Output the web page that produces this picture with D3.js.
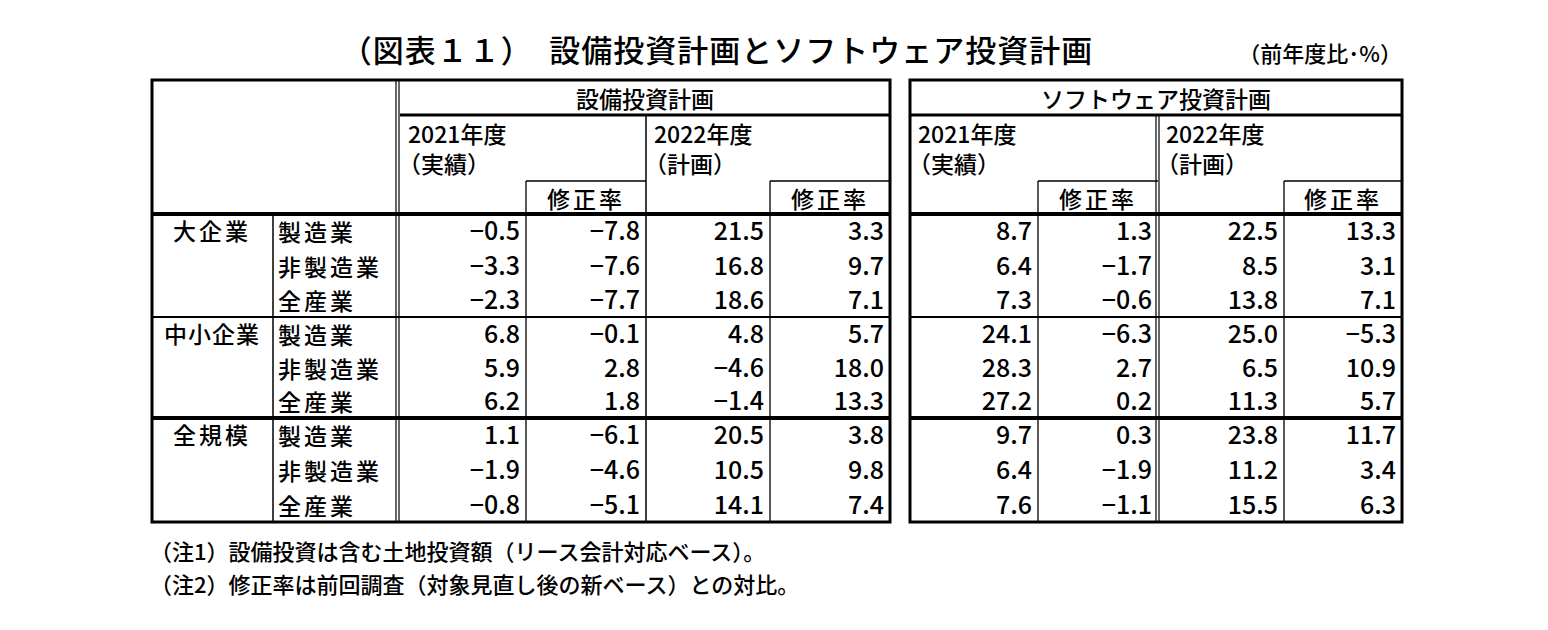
<!DOCTYPE html><html><head><meta charset="utf-8">
<script src="https://cdn.jsdelivr.net/npm/d3@7"></script>
<style>body{margin:0;background:#fff}text{font-family:"Noto Sans CJK JP",sans-serif;fill:#000;font-weight:500}</style></head><body>
<svg id="c" width="1548" height="630"></svg>
<script>
const groups=["大企業","中小企業","全規模"];
const industries=["製造業","非製造業","全産業"];
const capex2021=[-0.5,-3.3,-2.3,6.8,5.9,6.2,1.1,-1.9,-0.8];
const capex2021Rev=[-7.8,-7.6,-7.7,-0.1,2.8,1.8,-6.1,-4.6,-5.1];
const capex2022=[21.5,16.8,18.6,4.8,-4.6,-1.4,20.5,10.5,14.1];
const capex2022Rev=[3.3,9.7,7.1,5.7,18.0,13.3,3.8,9.8,7.4];
const sw2021=[8.7,6.4,7.3,24.1,28.3,27.2,9.7,6.4,7.6];
const sw2021Rev=[1.3,-1.7,-0.6,-6.3,2.7,0.2,0.3,-1.9,-1.1];
const sw2022=[22.5,8.5,13.8,25.0,6.5,11.3,23.8,11.2,15.5];
const sw2022Rev=[13.3,3.1,7.1,-5.3,10.9,5.7,11.7,3.4,6.3];
const title="（図表１１）　設備投資計画とソフトウェア投資計画";
const unit="（前年度比･%）";
const notes=["（注1）設備投資は含む土地投資額（リース会計対応ベース）。","（注2）修正率は前回調査（対象見直し後の新ベース）との対比。"];

const svg=d3.select("#c");
const cols=[capex2021,capex2021Rev,capex2022,capex2022Rev,sw2021,sw2021Rev,sw2022,sw2022Rev];
const colEdges=[[400,526],[526,646],[646,770],[770,890],[910,1038],[1038,1158],[1158,1284],[1284,1402]];
const x=d3.scaleOrdinal().domain(d3.range(8)).range(colEdges);
const gY=[[214,317],[317,418],[418,522]];
const fmt=v=>(v<0?"−":"")+Math.abs(v).toFixed(1);
const line=(x1,y1,x2,y2,w)=>svg.append("line").attr("x1",x1).attr("y1",y1).attr("x2",x2).attr("y2",y2).attr("stroke","#000").attr("stroke-width",w);

svg.append("text").attr("x",717).attr("y",62).attr("text-anchor","middle").attr("font-size",31).attr("font-weight","bold").attr("letter-spacing",1).text(title);
svg.append("text").attr("x",1402).attr("y",62).attr("text-anchor","end").attr("font-size",22).text(unit);

[[152,890,"設備投資計画",0],[910,1402,"ソフトウェア投資計画",4]].forEach(([L,R,h,c0],ti)=>{
  const dL=x(c0)[0];
  svg.append("text").attr("x",(dL+R)/2).attr("y",108).attr("text-anchor","middle").attr("font-size",23).text(h);
  line(dL,115,R,115,3);
  [[c0,"2021年度","（実績）"],[c0+2,"2022年度","（計画）"]].forEach(([c,a,b])=>{
    const [l]=x(c);
    svg.append("text").attr("x",l+8).attr("y",143).attr("font-size",23).text(a);
    svg.append("text").attr("x",l-2).attr("y",173).attr("font-size",23).text(b);
    const [rl,rr]=x(c+1);
    line(rl,181,rr,181,1.3);line(rl,181,rl,522,1.3);
    svg.append("text").attr("x",(rl+rr)/2).attr("y",208).attr("text-anchor","middle").attr("font-size",23).attr("letter-spacing",3).text("修正率");
  });
  const mid=x(c0+2)[0];
  if(ti===1){line(mid-2,115,mid-2,522,1.2);line(mid+1,115,mid+1,522,1.2);}else line(mid,115,mid,522,1.5);
  line(L,214,R,214,4);line(L,317,R,317,2);line(L,418,R,418,4);
  svg.append("rect").attr("x",L).attr("y",80).attr("width",R-L).attr("height",442).attr("fill","none").attr("stroke","#000").attr("stroke-width",3);
  for(let c=c0;c<c0+4;c++){
    const [l,r]=x(c);
    groups.forEach((g,gi)=>{
      const yb=d3.scaleBand().domain(d3.range(3)).range(gY[gi]);
      industries.forEach((_,ii)=>{
        svg.append("text").attr("x",r-6).attr("y",yb(ii)+yb.bandwidth()/2+9).attr("text-anchor","end")
          .attr("font-family","Liberation Sans Narrow, Arial Narrow, sans-serif").attr("font-size",25).attr("font-weight","normal").text(fmt(cols[c][gi*3+ii]));
      });
    });
  }
});
line(273,214,273,522,1.5);line(396,80,396,522,1.2);line(399,80,399,522,1.2);
groups.forEach((g,gi)=>{
  const yb=d3.scaleBand().domain(d3.range(3)).range(gY[gi]);
  const big=g.length>3;
  svg.append("text").attr("x",212).attr("y",yb(0)+yb.bandwidth()/2+9).attr("text-anchor","middle").attr("font-size",23).attr("letter-spacing",big?1:3).text(g);
  industries.forEach((ind,ii)=>svg.append("text").attr("x",278).attr("y",yb(ii)+yb.bandwidth()/2+10).attr("font-size",23).attr("letter-spacing",3).text(ind));
});
notes.forEach((n,i)=>svg.append("text").attr("x",150).attr("y",560+i*33).attr("font-size",22).text(n));
</script></body></html>
